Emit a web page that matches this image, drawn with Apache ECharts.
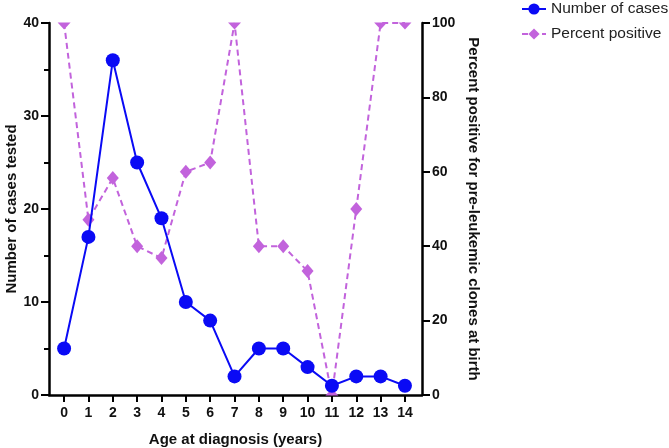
<!DOCTYPE html>
<html>
<head>
<meta charset="utf-8">
<script src="https://cdn.jsdelivr.net/npm/echarts@6/dist/echarts.min.js"></script>
<style>
html,body{margin:0;padding:0;background:#fff;}
#chart{width:669px;height:448px;}
</style>
</head>
<body>
<div id="chart"></div>
<script>
const ages = [0,1,2,3,4,5,6,7,8,9,10,11,12,13,14];
const numberOfCases = [5,17,36,25,19,10,8,2,5,5,3,1,2,2,1];
const percentPositive = [100,47.1,58.3,40,36.8,60,62.5,100,40,40,33.3,0,50,100,100];
const leftTicks = [0,10,20,30,40];
const rightTicks = [0,20,40,60,80,100];

const FONT = "'Liberation Sans', Arial, Helvetica, sans-serif";
const BLUE = '#0a0af5';
const PURPLE = '#c263dc';
const PCT_MAX = 100, PCT_MIN = 0;

const chart = echarts.init(document.getElementById('chart'), null, {renderer:'canvas'});

const downTri = 'path://M0,0 L2,0 L1,1.1 Z';
const upTri = 'path://M1,0 L2,1.1 L0,1.1 Z';

const pctData = ages.map((a,i)=>{
  const v = percentPositive[i];
  const d = {value:[a, v]};
  if (v >= PCT_MAX) { d.symbol = downTri; d.symbolSize = [13,7]; d.symbolOffset = [0,3]; }
  else if (v <= PCT_MIN) { d.symbol = upTri; d.symbolSize = [13,7]; d.symbolOffset = [0,-3]; }
  return d;
});
const casesData = ages.map((a,i)=>[a, numberOfCases[i]]);

const axisLabelStyle = {color:'#111', fontFamily:FONT, fontWeight:'bold', fontSize:14};
const axisNameStyle = {color:'#111', fontFamily:FONT, fontWeight:'bold', fontSize:15};

chart.setOption({
  animation:false,
  backgroundColor:'#fff',
  legend:{
    orient:'vertical', left:516, top:-4,
    itemWidth:24, itemHeight:14, itemGap:9,
    textStyle:{fontFamily:FONT, fontSize:15.5, color:'#222'},
    data:['Number of cases','Percent positive']
  },
  grid:{left:49, right:247, top:23, bottom:53, containLabel:false, outerBoundsMode:'none'},
  xAxis:{
    type:'value', min:-0.62, max:14.7,
    name:'Age at diagnosis (years)', nameLocation:'middle', nameGap:37, nameMoveOverlap:false,
    nameTextStyle:axisNameStyle,
    axisLine:{show:true, onZero:false, lineStyle:{color:'#000', width:2.5}},
    axisTick:{show:true, length:7, lineStyle:{color:'#000', width:2}, customValues:ages},
    axisLabel:Object.assign({margin:11, customValues:ages}, axisLabelStyle),
    splitLine:{show:false}
  },
  yAxis:[{
    type:'value', min:0, max:40, interval:10,
    name:'Number of cases tested', nameLocation:'middle', nameGap:30, nameMoveOverlap:false,
    nameTextStyle:axisNameStyle,
    axisLine:{show:true, onZero:false, lineStyle:{color:'#000', width:2.5}},
    axisTick:{show:true, length:8, lineStyle:{color:'#000', width:2}},
    minorTick:{show:true, splitNumber:2, length:5, lineStyle:{color:'#000', width:2}},
    axisLabel:Object.assign({margin:10}, axisLabelStyle),
    splitLine:{show:false}
  },{
    type:'value', min:0, max:100, interval:20, position:'right',
    name:'Percent positive for pre-leukemic clones at birth', nameLocation:'middle', nameGap:44, nameRotate:-90, nameMoveOverlap:false,
    nameTextStyle:axisNameStyle,
    axisLine:{show:true, onZero:false, lineStyle:{color:'#000', width:2.5}},
    axisTick:{show:true, length:8, lineStyle:{color:'#000', width:2}},
    axisLabel:Object.assign({margin:10}, axisLabelStyle),
    splitLine:{show:false}
  }],
  series:[{
    name:'Percent positive', type:'line', yAxisIndex:1,
    data:pctData,
    symbol:'diamond', symbolSize:[12,14],
    itemStyle:{color:PURPLE},
    lineStyle:{color:PURPLE, width:2, type:[6,4]},
    clip:false, z:2
  },{
    name:'Number of cases', type:'line', yAxisIndex:0,
    data:casesData,
    symbol:'circle', symbolSize:14,
    itemStyle:{color:BLUE},
    lineStyle:{color:BLUE, width:2},
    clip:false, z:3
  }]
});
</script>
</body>
</html>
